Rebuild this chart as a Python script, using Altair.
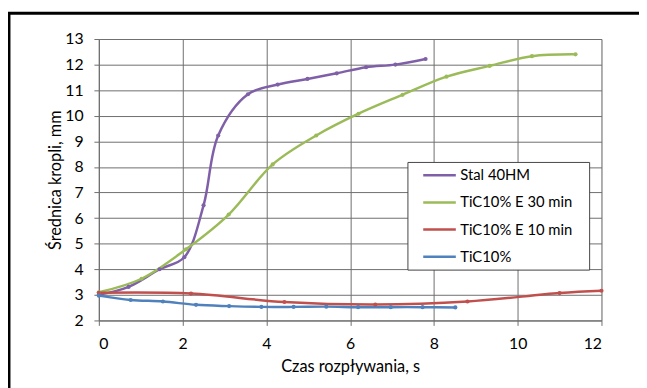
import altair as alt
import pandas as pd

series_names = ["Stal 40HM", "TiC10% E 30 min", "TiC10% E 10 min", "TiC10%"]
series_colors = ["#7F60A8", "#9BBB59", "#C0504D", "#4F81BD"]

stal_x = [0.0, 0.71, 1.45, 2.04, 2.5, 2.85, 3.56, 4.27, 4.98, 5.68, 6.38, 7.08, 7.8]
stal_y = [3.0, 3.31, 4.0, 4.47, 6.5, 9.23, 10.84, 11.22, 11.44, 11.66, 11.9, 12.0, 12.22]

e30_x = [0.0, 1.02, 2.08, 3.1, 4.15, 5.19, 6.2, 7.25, 8.3, 9.33, 10.34, 11.38]
e30_y = [3.1, 3.63, 4.78, 6.14, 8.1, 9.23, 10.08, 10.82, 11.53, 11.95, 12.33, 12.4]

e10_x = [0.0, 2.2, 4.43, 6.6, 8.8, 11.0, 12.0]
e10_y = [3.08, 3.05, 2.72, 2.62, 2.74, 3.07, 3.16]

tic_x = [0.0, 0.76, 1.53, 2.32, 3.11, 3.88, 4.65, 5.43, 6.19, 6.97, 7.73, 8.51]
tic_y = [2.97, 2.8, 2.74, 2.61, 2.56, 2.53, 2.53, 2.54, 2.52, 2.52, 2.52, 2.51]

x_ticks = [0, 2, 4, 6, 8, 10, 12]
y_ticks = [2, 3, 4, 5, 6, 7, 8, 9, 10, 11, 12, 13]

rows = []
for name, xs, ys in zip(series_names, [stal_x, e30_x, e10_x, tic_x], [stal_y, e30_y, e10_y, tic_y]):
    for xv, yv in zip(xs, ys):
        rows.append({"series": name, "t": xv, "d": yv})
df = pd.DataFrame(rows)

W, H = 509, 285
grid = "#6e6e6e"

color = alt.Color(
    "series:N",
    scale=alt.Scale(domain=series_names, range=series_colors),
    legend=alt.Legend(
        title=None,
        orient="none",
        legendX=327,
        legendY=120,
        symbolType="stroke",
        symbolSize=1089,
        symbolStrokeWidth=2.5,
        labelFont="Lato",
        labelFontSize=15,
        labelColor="#000000",
        labelOffset=3,
        rowPadding=1.5,
        padding=0,
        labelLimit=300,
    ),
)

xenc = alt.X(
    "t:Q",
    scale=alt.Scale(domain=[0, 12], nice=False),
    axis=alt.Axis(
        values=x_ticks,
        title="Czas rozpływania, s",
        titleFont="Lato",
        titleFontSize=16.5,
        titleFontWeight="normal",
        titleColor="#000",
        titlePadding=8,
        labelFont="Lato",
        labelFontSize=16,
        labelColor="#000",
        labelPadding=10,
        labelOverlap=False,
        gridColor=grid,
        domainColor=grid,
        tickColor=grid,
        tickSize=5,
    ),
)
yenc = alt.Y(
    "d:Q",
    scale=alt.Scale(domain=[2, 13], nice=False),
    axis=alt.Axis(
        values=y_ticks,
        title="Średnica kropli, mm",
        titleFont="Lato",
        titleFontSize=16.5,
        titleFontWeight="normal",
        titleColor="#000",
        titlePadding=1,
        labelFont="Lato",
        labelFontSize=16,
        labelColor="#000",
        labelPadding=11,
        labelOverlap=False,
        gridColor=grid,
        domainColor=grid,
        tickColor=grid,
        tickSize=5,
    ),
)

base = alt.Chart(df).encode(x=xenc, y=yenc, color=color)
lines = base.mark_line(interpolate="catmull-rom", strokeWidth=2.5).encode(detail="series:N")
points = base.mark_circle(size=18, opacity=1)

box = alt.Chart(pd.DataFrame({"a": [0]})).mark_rect(
    fill="white", stroke="#444444", strokeWidth=1, clip=False
).encode(
    x=alt.value(313), x2=alt.value(497), y=alt.value(125), y2=alt.value(234)
)

frame = alt.Chart(pd.DataFrame({"a": [0]})).mark_rect(
    fill=None, stroke="black", strokeWidth=3, clip=False
).encode(
    x=alt.value(-91), x2=alt.value(W + 60), y=alt.value(-26), y2=alt.value(H + 90)
)

chart = alt.layer(lines, points, box, frame).properties(
    width=W,
    height=H,
    autosize=alt.AutoSizeParams(type="none"),
    padding={"left": 92, "top": 29, "right": 38, "bottom": 66},
).configure_view(stroke=grid, strokeWidth=1).configure(background="white")

chart.save("out.html", embed_options={"renderer": "svg", "actions": False})
